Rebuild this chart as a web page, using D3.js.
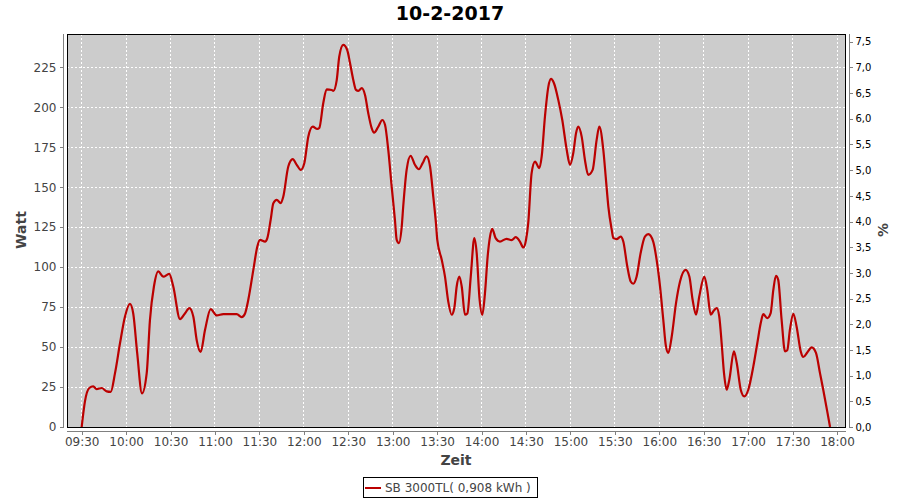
<!DOCTYPE html>
<html>
<head>
<meta charset="utf-8">
<script src="https://cdn.jsdelivr.net/npm/d3@7"></script>
<style>
  html, body { margin: 0; padding: 0; background: #fff; }
  svg { display: block; font-family: "DejaVu Sans", sans-serif; }
</style>
</head>
<body>
<svg id="chart" width="900" height="500"></svg>
<script>
// ---- data ----
const chartTitle = "10-2-2017";
const seriesName = "SB 3000TL( 0,908 kWh )";
const times = [
"09:30:00","09:32:12","09:35:06","09:37:48","09:40:06","09:43:30","09:46:54","09:49:36","09:52:30","09:55:54",
"09:59:12","10:02:36","10:04:48","10:07:30","10:10:42","10:13:54","10:16:06","10:18:48","10:21:42","10:25:06",
"10:29:06","10:31:48","10:36:24","10:39:42","10:42:42","10:45:24","10:47:36","10:50:18","10:53:18","10:57:06",
"11:01:12","11:05:36","11:14:42","11:18:00","11:20:18","11:22:30","11:25:54","11:28:36","11:30:24","11:33:48",
"11:35:18","11:37:36","11:39:24","11:41:42","11:44:24","11:46:06","11:49:30","11:52:30","11:55:12","11:57:54",
"12:00:18","12:03:00","12:06:00","12:09:06","12:10:24","12:13:06","12:15:24","12:18:48","12:19:54","12:22:12",
"12:23:54","12:26:36","12:29:18","12:31:12","12:33:24","12:35:12","12:36:48","12:39:06","12:41:18","12:43:30",
"12:45:48","12:47:24","12:50:18","12:53:00","12:54:48","12:57:00","12:59:18","13:01:30","13:02:42","13:04:12",
"13:06:06","13:07:06","13:09:24","13:12:06","13:15:00","13:17:42","13:20:12","13:22:54","13:25:12","13:27:24",
"13:29:12","13:30:06","13:33:06","13:35:18","13:37:30","13:39:48","13:41:36","13:43:12","13:45:00","13:46:36",
"13:48:48","13:50:24","13:52:42","13:55:06","13:56:42","13:58:30","14:00:30","14:02:18","14:04:06","14:05:42",
"14:07:12","14:09:30","14:12:24","14:16:54","14:20:18","14:23:00","14:25:54","14:28:12","14:30:00","14:31:30",
"14:33:48","14:36:06","14:39:00","14:40:36","14:42:48","14:45:06","14:46:54","14:48:54","14:51:48","14:54:30",
"14:57:30","14:59:42","15:01:54","15:03:48","15:05:18","15:07:36","15:09:48","15:12:00","15:15:00","15:17:42",
"15:19:30","15:22:12","15:24:00","15:25:36","15:27:54","15:29:00","15:31:12","15:33:54","15:35:42","15:38:24",
"15:40:42","15:42:24","15:44:42","15:47:24","15:50:18","15:52:36","15:55:54","15:58:12","16:00:30","16:02:42",
"16:04:30","16:06:06","16:08:24","16:11:18","16:14:00","16:17:48","16:20:18","16:22:30","16:24:48","16:27:00",
"16:30:24","16:32:24","16:34:42","16:36:54","16:38:48","16:40:30","16:42:06","16:43:42","16:45:30","16:47:18",
"16:50:24","16:52:18","16:55:00","16:57:24","17:00:06","17:03:30","17:06:12","17:08:30","17:10:12","17:12:54",
"17:15:12","17:17:00","17:18:48","17:20:18","17:22:36","17:24:54","17:26:24","17:28:12","17:30:30","17:32:42",
"17:35:30","17:37:12","17:39:54","17:42:54","17:45:48","17:48:30","17:50:42","17:53:24","17:55:18"
];
const watts = [
0,16,24.4,25.4,23.7,24.4,22.3,22,33.7,52.5,
69,77,71,46,21,33.7,67,88,97.3,94,
95.8,88,67.5,71,74.4,69,54.6,46.9,60.8,73.7,
69.8,70.6,70.6,68.7,71,79.6,98.3,112.9,117,116,
118,129.6,140,142,140,144,162.9,167.5,164,160.8,
165,181.6,187.9,186.4,187,202.5,211.2,210.8,210.2,217,
231.6,239,235.8,227.5,217,210.8,210.2,211.9,207.7,196.2,
186.9,184.1,187.9,192,189,173.3,150.4,129.6,117,115,
125.4,137.9,160.8,169.6,164,161.2,165,169.2,162.9,144.1,
127.5,117,104.6,94.1,78.5,70.2,74.4,87.9,94.1,87.9,
70.2,71,94.1,118.1,108.8,81.6,70.2,83.7,106.6,119.1,
124,118.1,116,117.7,116.9,118.7,116,112.3,117,127.5,
158.8,166,161.9,169.2,194.1,212.9,217.7,215,204.6,192,
173.3,164,171.2,183.8,187.9,181.6,167,157.7,160.8,179.6,
187.9,173.3,154.6,137.9,123.3,118.1,117.5,119.1,116,100.4,
91,89.6,94.1,108.8,119.1,120.6,116,104.6,87.9,67,
50.4,46.3,56.6,77.5,91,98.3,94.1,79.6,70.2,81.6,
94.1,85.8,70.2,72.9,74.4,69,52.5,33.7,23.3,29.6,
47.3,40,23.3,19.1,23.3,37.9,52.5,65,70.6,68.1,
71.2,85.8,94.6,92,67,47.3,48,60.8,70.8,62.9,
47.3,43.8,46.6,49.8,46.3,33.7,23.3,9.8,0
];
const xTickLabels = ["09:30","10:00","10:30","11:00","11:30","12:00","12:30","13:00","13:30",
                     "14:00","14:30","15:00","15:30","16:00","16:30","17:00","17:30","18:00"];
const leftTicks = [0,25,50,75,100,125,150,175,200,225];
const rightTicks = [0,0.5,1,1.5,2,2.5,3,3.5,4,4.5,5,5.5,6,6.5,7,7.5];
const xDomain = ["09:20:17","18:05:52"];
const leftMax = 245.8;
const rightMax = 7.65;

// ---- layout ----
const L = 67, T = 34, R = 845, B = 427;
const svg = d3.select("#chart");
const parse = d3.timeParse("%H:%M:%S");
const parseHM = d3.timeParse("%H:%M");

const x = d3.scaleTime().domain(xDomain.map(parse)).range([67.3, 845.7]);
const y = d3.scaleLinear().domain([0, leftMax]).range([B, T]);
const y2 = d3.scaleLinear().domain([0, rightMax]).range([B, T]);

const data = times.map((t, i) => ({ t: parse(t), v: watts[i] }));
const xTicks = xTickLabels.map(parseHM);

// title
svg.append("text").attr("x", 450).attr("y", 20).attr("text-anchor", "middle")
  .attr("font-size", 19).attr("font-weight", "bold").attr("fill", "#000").text(chartTitle);

// plot background
svg.append("rect").attr("x", L).attr("y", T).attr("width", R - L + 1).attr("height", B - T)
  .attr("fill", "#cccccc");

// gridlines
const grid = svg.append("g").attr("stroke", "#fff").attr("stroke-width", 1)
  .attr("stroke-dasharray", "2,2").attr("shape-rendering", "crispEdges");
xTicks.forEach(t => {
  const px = Math.floor(x(t)) + 0.5;
  grid.append("line").attr("x1", px).attr("x2", px).attr("y1", T).attr("y2", B);
});
leftTicks.slice(1).forEach(v => {
  const py = Math.floor(y(v)) + 0.5;
  grid.append("line").attr("x1", L).attr("x2", R).attr("y1", py).attr("y2", py);
});

// series line
const clipId = "plotclip";
svg.append("clipPath").attr("id", clipId).append("rect")
  .attr("x", L).attr("y", T).attr("width", R - L + 1).attr("height", B - T + 1);
svg.append("path").datum(data)
  .attr("clip-path", `url(#${clipId})`)
  .attr("fill", "none").attr("stroke", "#bb0000").attr("stroke-width", 2.2)
  .attr("stroke-linejoin", "round")
  .attr("d", d3.line().x(d => x(d.t)).y(d => y(d.v)).curve(d3.curveMonotoneX));

// plot border
svg.append("rect").attr("x", L + 0.5).attr("y", T + 0.5).attr("width", R - L).attr("height", B - T)
  .attr("fill", "none").attr("stroke", "#000").attr("stroke-width", 1).attr("shape-rendering", "crispEdges");

// left axis
const leftAxis = d3.axisLeft(y).tickValues(leftTicks).tickSize(4).tickPadding(3);
const gl = svg.append("g").attr("transform", "translate(63.5,0)").call(leftAxis);
gl.select(".domain").attr("d", `M0,${T}V${B + 1}`);
// bottom axis
const bottomAxis = d3.axisBottom(x).tickValues(xTicks).tickFormat(d3.timeFormat("%H:%M")).tickSize(3).tickPadding(3);
const gb = svg.append("g").attr("transform", "translate(0,431.5)").call(bottomAxis);
gb.select(".domain").attr("d", `M${L},0H${R + 1}`);
// right axis
const rightAxis = d3.axisRight(y2).tickValues(rightTicks)
  .tickFormat(d => d3.format(".1f")(d).replace(".", ",")).tickSize(3).tickPadding(3);
const gr = svg.append("g").attr("transform", "translate(849.5,0)").call(rightAxis);
gr.select(".domain").attr("d", `M0,${T}V${B + 1}`);

[gl, gb, gr].forEach(g => {
  g.attr("font-family", "DejaVu Sans, sans-serif");
  g.select(".domain").attr("stroke", "#808080").attr("shape-rendering", "crispEdges");
  g.selectAll(".tick line").attr("stroke", "#808080").attr("shape-rendering", "crispEdges");
});
gl.attr("font-size", 12).selectAll(".tick text").attr("fill", "#444");
gb.attr("font-size", 12).selectAll(".tick text").attr("fill", "#444");
gr.attr("font-size", 10).selectAll(".tick text").attr("fill", "#000");
gl.selectAll(".tick line").attr("transform", "translate(0,0)");

// axis labels
svg.append("text").attr("transform", "translate(26,230) rotate(-90)").attr("text-anchor", "middle")
  .attr("font-size", 14).attr("font-weight", "bold").attr("fill", "#444").text("Watt");
svg.append("text").attr("transform", "translate(888,230) rotate(-90)").attr("text-anchor", "middle")
  .attr("font-size", 14).attr("font-weight", "bold").attr("fill", "#444").text("%");
svg.append("text").attr("x", 456).attr("y", 465).attr("text-anchor", "middle")
  .attr("font-size", 14).attr("font-weight", "bold").attr("fill", "#444").text("Zeit");

// legend
const lg = svg.append("g");
lg.append("rect").attr("x", 363.5).attr("y", 477.5).attr("width", 174).attr("height", 20)
  .attr("fill", "#fff").attr("stroke", "#000").attr("shape-rendering", "crispEdges");
lg.append("line").attr("x1", 365).attr("x2", 381).attr("y1", 488).attr("y2", 488)
  .attr("stroke", "#bb0000").attr("stroke-width", 2);
lg.append("text").attr("x", 385).attr("y", 492).attr("font-size", 12).attr("fill", "#444").text(seriesName);
</script>
</body>
</html>
